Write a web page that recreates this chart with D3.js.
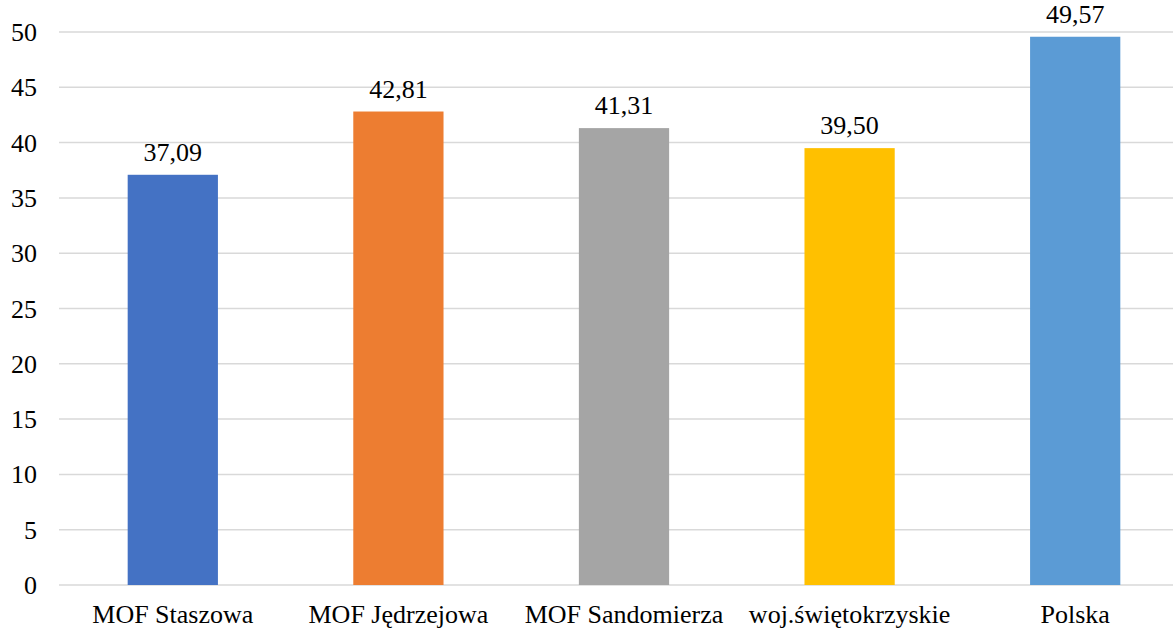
<!DOCTYPE html>
<html><head><meta charset="utf-8">
<script src="https://cdn.jsdelivr.net/npm/d3@7"></script>
</head><body style="margin:0"><svg id="c" width="1173" height="628" style="display:block"></svg>
<script>
const categories = ["MOF Staszowa","MOF Jędrzejowa","MOF Sandomierza","woj.świętokrzyskie","Polska"];
const values = [37.09, 42.81, 41.31, 39.50, 49.57];
const colors = ["#4472c4","#ed7d31","#a5a5a5","#ffc000","#5b9bd5"];
const ticks = [0,5,10,15,20,25,30,35,40,45,50];

const svg = d3.select("#c");
const x = d3.scaleBand().domain(categories).range([60, 1188]).paddingInner(0.6).paddingOuter(0.3);
const y = d3.scaleLinear().domain([0,50]).range([585, 32]);
const fmt = v => v.toFixed(2).replace(".", ",");
const fam = d => '"Tinos", "Liberation Serif", monospace';

svg.selectAll("line.grid").data(ticks).join("line").attr("class","grid")
  .attr("x1", 59).attr("x2", 1173)
  .attr("y1", d => y(d)).attr("y2", d => y(d))
  .attr("stroke", "#d9d9d9").attr("stroke-width", 1.5);

svg.selectAll("rect").data(values).join("rect")
  .attr("x", (d,i) => x(categories[i]))
  .attr("width", x.bandwidth())
  .attr("y", d => y(d)).attr("height", d => y(0) - y(d))
  .attr("fill", (d,i) => colors[i]);

svg.selectAll("text.t1").data(ticks).join("text").attr("class","t1")
  .attr("x", 37).attr("y", d => y(d) + 9)
  .attr("text-anchor", "end").attr("font-size", 26)
  .style("font-family", fam).text(d => String(d));

svg.selectAll("text.t2").data(values).join("text").attr("class","t2")
  .attr("x", (d,i) => x(categories[i]) + x.bandwidth()/2)
  .attr("y", d => y(d) - 14)
  .attr("text-anchor", "middle").attr("font-size", 26)
  .style("font-family", fam).text(fmt);

svg.selectAll("text.t3").data(categories).join("text").attr("class","t3")
  .attr("x", d => x(d) + x.bandwidth()/2)
  .attr("y", 623)
  .attr("text-anchor", "middle").attr("font-size", 26)
  .style("font-family", fam).text(d => d);
</script></body></html>
